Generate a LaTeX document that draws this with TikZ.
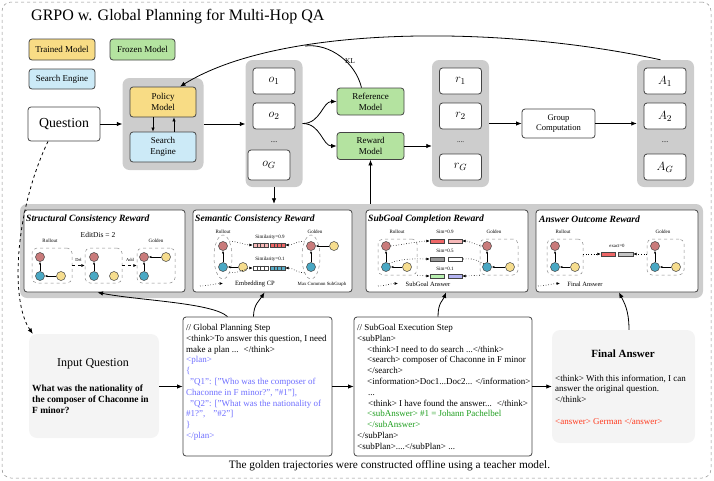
\documentclass[tikz,border=0pt]{standalone}
\usepackage{fontspec}
\setmainfont{Liberation Serif}
\usetikzlibrary{arrows.meta,shapes.geometric,calc}
\definecolor{ymod}{HTML}{F8DC85}
\definecolor{bmod}{HTML}{CCEAF7}
\definecolor{gmod}{HTML}{B4E3A0}
\definecolor{grpc}{HTML}{CDCDCD}
\definecolor{lightbox}{HTML}{F4F4F4}
\definecolor{plantxt}{HTML}{6F6FFF}
\definecolor{subtxt}{HTML}{1E9E1E}
\definecolor{anstxt}{HTML}{FF3B1F}
\definecolor{rcirc}{HTML}{C97B7B}
\definecolor{bcirc}{HTML}{4AA8C4}
\definecolor{ycirc}{HTML}{F6DD8E}
\definecolor{pinkbar}{HTML}{F7B8B8}
\definecolor{redbar}{HTML}{EE6666}
\definecolor{bluebar}{HTML}{5AAFC9}
\definecolor{darkbar}{HTML}{999999}
\definecolor{greenbar}{HTML}{B8F0B0}
\definecolor{lavbar}{HTML}{B4B4F2}
\definecolor{graybar}{HTML}{C4C4C4}
\definecolor{edge}{HTML}{444444}
\tikzset{
  mbox/.style={draw=edge, line width=0.8pt, rounded corners=3pt, inner sep=0pt, align=center},
  sz/.style 2 args={minimum width=#1pt, minimum height=#2pt},
  grp/.style={fill=grpc, rounded corners=7pt, inner sep=0pt},
  arr/.style={-{Latex[length=5.5pt,width=4.5pt]}, line width=0.8pt},
  pan/.style={draw=edge, line width=0.8pt, fill=white, rounded corners=3pt, inner sep=0pt},
  ptitle/.style={font=\fontsize{9.6}{10}\selectfont\bfseries\itshape, inner sep=0pt, anchor=west},
  tinyt/.style={font=\fontsize{5}{6}\selectfont, inner sep=0pt},
  cn/.style={circle, draw=edge, line width=0.5pt, minimum size=9pt, inner sep=0pt},
  rc/.style={cn, fill=rcirc}, bc/.style={cn, fill=bcirc}, yc/.style={cn, fill=ycirc},
  sarr/.style={-{Latex[length=2.6pt,width=2.2pt]}, line width=0.6pt},
  dgrp/.style={draw=black!45, dashed, line width=0.5pt, rounded corners=5pt, inner sep=0pt},
  dotarr/.style={dotted, line width=0.6pt, -{Latex[length=3.5pt,width=3pt]}},
  bar/.style={draw=edge, line width=0.4pt, inner sep=0pt, minimum height=4.5pt},
  code/.style={font=\fontsize{9}{10.8}\selectfont, align=left, inner sep=0pt, anchor=north west},
  mfont/.style={font=\fontsize{9}{11}\selectfont},
  ofont/.style={font=\fontsize{12.5}{14}\selectfont},
}
\newcommand{\mysegbar}[4]{%
  \node[bar, fill=#4, minimum width=15pt] (#1) at (#2,#3) {};
  \foreach \k in {1,2,3}{\draw[line width=0.3pt, draw=edge] ($(#1.north west)!{\k/4}!(#1.north east)$) -- ($(#1.south west)!{\k/4}!(#1.south east)$);}
}
\begin{document}
\begin{tikzpicture}[x=1pt,y=-1pt]
\useasboundingbox (0,0) rectangle (714,480);
\node[draw=black!45, dashed, line width=0.5pt, rounded corners=9pt, sz={709}{476}, inner sep=0pt] (frame) at (356.5,240) {};
\node[anchor=west, inner sep=0pt, font=\fontsize{16}{18}\selectfont] (title) at (31,17) {GRPO w. Global Planning for Multi-Hop QA};
% legend
\node[mbox, mfont, fill=ymod, sz={66}{21}] (legT) at (62,49.5) {Trained Model};
\node[mbox, mfont, fill=gmod, sz={65}{21}] (legF) at (142.5,49.5) {Frozen Model};
\node[mbox, mfont, fill=bmod, sz={66}{20}] (legS) at (62,79) {Search Engine};
% top row
\node[mbox, sz={72}{34}, font=\fontsize{13.8}{15}\selectfont] (q) at (64,124) {Question};
\node[grp, sz={81}{92}] (pg) at (163,124) {};
\node[mbox, mfont, fill=ymod, sz={66}{30}] (pm) at (163,102) {Policy\\Model};
\node[mbox, mfont, fill=bmod, sz={66}{30}] (se) at (163,147) {Search\\Engine};
\draw[sarr, line width=0.7pt, -{Latex[length=4pt,width=3.5pt]}] ([xshift=-10pt]pm.south) -- ([xshift=-10pt]se.north);
\draw[sarr, line width=0.7pt, -{Latex[length=4pt,width=3.5pt]}] ([xshift=11pt]se.north) -- ([xshift=11pt]pm.south);
\node[grp, sz={57}{127}] (og) at (274,123.5) {};
\node[mbox, ofont, fill=white, sz={42}{26}] (o1) at (274,81) {$o_1$};
\node[mbox, ofont, fill=white, sz={42}{26}] (o2) at (274,116) {$o_2$};
\node[inner sep=0pt, font=\fontsize{7}{8}\selectfont] (od) at (274,142) {....};
\node[mbox, ofont, fill=white, sz={42}{30}] (oG) at (269,165) {$o_G$};
\node[mbox, mfont, fill=gmod, sz={67}{27}] (ref) at (370.5,101.5) {Reference\\Model};
\node[mbox, mfont, fill=gmod, sz={67}{27}] (rew) at (370.5,146) {Reward\\Model};
\node[grp, sz={57}{127}] (rg) at (460.5,123.5) {};
\node[mbox, ofont, fill=white, sz={42}{26}] (r1) at (460.5,81) {$r_1$};
\node[mbox, ofont, fill=white, sz={42}{26}] (r2) at (460.5,116) {$r_2$};
\node[inner sep=0pt, font=\fontsize{7}{8}\selectfont] (rd) at (460.5,142) {....};
\node[mbox, ofont, fill=white, sz={42}{26}] (rG) at (460.5,167) {$r_G$};
\node[mbox, font=\fontsize{8.6}{10}\selectfont, fill=white, sz={73}{29}] (gc) at (558.5,123.5) {Group\\Computation};
\node[grp, sz={57}{127}] (ag) at (665.5,123.5) {};
\node[mbox, ofont, fill=white, sz={42}{26}] (a1) at (665,81) {$A_1$};
\node[mbox, ofont, fill=white, sz={42}{26}] (a2) at (665,116) {$A_2$};
\node[inner sep=0pt, font=\fontsize{7}{8}\selectfont] (ad) at (665,142) {....};
\node[mbox, ofont, fill=white, sz={42}{26}] (aG) at (665,167) {$A_G$};
% top connectors
\draw[arr] (q.east) -- (q.east -| pg.west);
\draw[arr] (pg.east) -- (pg.east -| og.west);
\draw[arr] (og.east) .. controls +(18,0) and +(-14,0) .. (ref.west);
\draw[arr] (og.east) .. controls +(18,0) and +(-14,0) .. (rew.west);
\draw[arr] (rew.east) -- (rew.east -| rg.west);
\draw[arr] (rg.east) -- (rg.east -| gc.west);
\draw[arr] (gc.east) -- (gc.east -| ag.west);
\draw[arr] ([xshift=-5pt]ag.north) .. controls +(-160,-35) and +(100,-62) .. ([xshift=17pt]pm.north);
\coordinate (klm) at (305,46);
\draw[line width=0.8pt] ([xshift=-9pt]ref.north) .. controls +(-6,-25) and +(25,-3) .. (klm);
\node[inner sep=0pt, font=\fontsize{7.5}{8}\selectfont] (kl) at (350,61) {KL};
% reward band
\node[grp, sz={683}{94}] (band) at (361.5,251) {};
\draw[arr] (og.south) -- (og.south |- band.north);
\draw[arr] (band.north -| rew.south) -- (rew.south);
\node[pan, sz={161}{82}] (p1) at (104.5,251) {};
\node[pan, sz={159}{82}] (p2) at (272.5,251) {};
\node[pan, sz={162}{82}] (p3) at (447,251) {};
\node[pan, sz={162}{82}] (p4) at (617,251) {};
\node[ptitle] (t1) at (26,219) {Structural Consistency Reward};
\node[ptitle] (t2) at (195,219) {Semantic Consistency Reward};
\node[ptitle] (t3) at (368,219) {SubGoal Completion Reward};
\node[ptitle] (t4) at (539,219) {Answer Outcome Reward};
% panel 1
\node[inner sep=0pt, font=\fontsize{7.5}{8}\selectfont] (ed) at (98,235) {EditDis = 2};
\node[tinyt] (ro1) at (50,241) {Rollout};
\node[tinyt] (go1) at (156,241) {Golden};
\node[dgrp, sz={40}{35}] (db1) at (52,265.5) {};
\node[dgrp, sz={37}{35}] (db2) at (103.5,265.5) {};
\node[dgrp, sz={38}{35}] (db3) at (156,265.5) {};
\node[rc] (c1r) at (40,257) {}; \node[bc] (c1b) at (40,276) {}; \node[yc] (c1y) at (61,276) {};
\node[rc] (c2r) at (94,257) {}; \node[bc] (c2b) at (94,276) {}; \node[yc] (c2y) at (114,276) {};
\node[rc] (c3r) at (144,257) {}; \node[bc] (c3b) at (144,276) {}; \node[yc] (c3y) at (166,257) {};
\draw[sarr] (c1b) -- (c1r); \draw[sarr] (c1y) -- (c1b);
\draw[sarr] (c2b) -- (c2r);
\draw[sarr] (c3b) -- (c3r); \draw[sarr] (c3y) -- (c3r);
\draw[dashed, line width=0.5pt, -{Latex[length=3.5pt,width=3pt]}] (db1.east) -- (db2.west);
\draw[dashed, line width=0.5pt, -{Latex[length=3.5pt,width=3pt]}] (db2.east) -- (db3.west);
\node[font=\fontsize{4.5}{5}\selectfont, inner sep=0pt] (del) at (78.5,260) {Del};
\node[font=\fontsize{4.5}{5}\selectfont, inner sep=0pt] (add) at (130,260) {Add};
% panel 2
\node[tinyt] (ro2) at (223,232) {Rollout};
\node[tinyt] (go2) at (315,232) {Golden};
\node[ellipse, draw=black!45, dashed, line width=0.5pt, minimum width=18pt, minimum height=44pt, inner sep=0pt] (el1) at (223,257) {};
\node[ellipse, draw=black!45, dashed, line width=0.5pt, minimum width=18pt, minimum height=44pt, inner sep=0pt] (el2) at (311,257) {};
\node[rc] (s1r) at (223,246) {}; \node[bc] (s1b) at (223,267) {}; \node[yc] (s1y) at (243,267) {};
\node[rc] (s2r) at (311,246) {}; \node[bc] (s2b) at (311,267) {}; \node[yc] (s2y) at (334,246) {};
\draw[sarr] (s1b) -- (s1r); \draw[sarr] (s1y) -- (s1b);
\draw[sarr] (s2b) -- (s2r); \draw[sarr] (s2y) -- (s2r);
\node[tinyt] (sim1) at (270,237) {Similarity=0.9};
\node[tinyt] (sim2) at (270,259) {Similarity=0.1};
\mysegbar{sb1}{260.5}{245}{pinkbar}
\mysegbar{sb2}{277.5}{245}{redbar}
\mysegbar{sb3}{260.5}{268}{white}
\mysegbar{sb4}{277.5}{268}{bluebar}
\draw[dotarr] (el1.north east) .. controls +(8,0) and +(-8,0) .. (sb1.west);
\draw[dotarr] (el2.north west) .. controls +(-8,0) and +(8,0) .. (sb2.east);
\draw[dotarr] (el1.south east) .. controls +(12,0) and +(-6,0) .. (sb3.west);
\draw[dotarr] (el2.south west) .. controls +(-8,0) and +(8,0) .. (sb4.east);
\coordinate (lg2a) at (200,286);
\coordinate (lg2b) at (223,283.5);
\draw[dotarr] (lg2a) .. controls +(8,0) and +(-8,0) .. (lg2b);
\node[inner sep=0pt, font=\fontsize{6.5}{7}\selectfont] (emb) at (255,284) {Embedding CP};
\node[inner sep=0pt, font=\fontsize{4.8}{5}\selectfont] (mcs) at (322,284) {Max Common SubGraph};
% panel 3
\node[tinyt] (ro3) at (397,232) {Rollout};
\node[tinyt] (go3) at (494,232) {Golden};
\node[dgrp, sz={39}{36}] (db4) at (397.5,257) {};
\node[dgrp, sz={38}{36}] (db5) at (499,257) {};
\node[rc] (g1r) at (386,246) {}; \node[bc] (g1b) at (386,267) {}; \node[yc] (g1y) at (407,267) {};
\node[rc] (g2r) at (487,246) {}; \node[bc] (g2b) at (487,267) {}; \node[yc] (g2y) at (510,267) {};
\draw[sarr] (g1b) -- (g1r); \draw[sarr] (g1y) -- (g1b);
\draw[sarr] (g2b) -- (g2r); \draw[sarr] (g2y) -- (g2b);
\node[tinyt] (sm1) at (445,232) {Sim=0.9};
\node[tinyt] (sm2) at (445,251) {Sim=0.5};
\node[tinyt] (sm3) at (445,269) {Sim=0.1};
\node[bar, fill=redbar, minimum width=14pt] (gb1) at (437,241) {};
\node[bar, fill=pinkbar, minimum width=14pt] (gb2) at (455,241) {};
\node[bar, fill=darkbar, minimum width=14pt] (gb3) at (437,259) {};
\node[bar, fill=white, minimum width=14pt] (gb4) at (455,259) {};
\node[bar, fill=greenbar, minimum width=14pt] (gb5) at (437,276) {};
\node[bar, fill=lavbar, minimum width=14pt] (gb6) at (455,276) {};
\draw[dotarr] (g1r.east) .. controls +(15,-2) and +(-8,0) .. (gb1.west);
\draw[dotarr] (g2r.west) .. controls +(-10,-2) and +(8,0) .. (gb2.east);
\draw[dotarr] (g1b.north east) .. controls +(12,-6) and +(-10,0) .. (gb3.west);
\draw[dotted, line width=0.6pt] (g2b.north west) .. controls +(-12,-6) and +(10,0) .. (gb4.east);
\draw[dotarr] (db4.south east) .. controls +(6,0) and +(-8,0) .. (gb5.west);
\draw[dotarr] (db5.south west) .. controls +(-6,0) and +(8,0) .. (gb6.east);
\coordinate (lg3a) at (378,286);
\coordinate (lg3b) at (398,283.5);
\draw[dotarr] (lg3a) .. controls +(8,0) and +(-8,0) .. (lg3b);
\node[inner sep=0pt, font=\fontsize{6.5}{7}\selectfont] (sga) at (428,284) {SubGoal Answer};
% panel 4
\node[tinyt] (ro4) at (563,232) {Rollout};
\node[tinyt] (go4) at (663,232) {Golden};
\node[dgrp, sz={36}{36}] (db6) at (565,257) {};
\node[dgrp, sz={37}{36}] (db7) at (665.5,257) {};
\node[rc] (f1r) at (555,246) {}; \node[bc] (f1b) at (555,267) {}; \node[yc] (f1y) at (575,267) {};
\node[rc] (f2r) at (655,246) {}; \node[bc] (f2b) at (655,267) {}; \node[yc] (f2y) at (676,267) {};
\draw[sarr] (f1b) -- (f1r); \draw[sarr] (f1y) -- (f1b);
\draw[sarr] (f2b) -- (f2r); \draw[sarr] (f2y) -- (f2b);
\node[font=\fontsize{4.8}{5}\selectfont, inner sep=0pt] (exa) at (617,246) {exact=0};
\node[bar, fill=redbar, minimum width=14pt] (fb1) at (608,254) {};
\node[bar, fill=graybar, minimum width=15pt] (fb2) at (625.5,254) {};
\draw[dotarr] (db6.east |- fb1) -- (fb1.west);
\draw[dotarr] (db7.west |- fb2) -- (fb2.east);
\coordinate (lg4a) at (538,286);
\coordinate (lg4b) at (560,283.5);
\draw[dotarr] (lg4a) .. controls +(8,0) and +(-8,0) .. (lg4b);
\node[inner sep=0pt, font=\fontsize{6.5}{7}\selectfont] (fan) at (585,284) {Final Answer};
% bottom row
\node[fill=lightbox, rounded corners=8pt, sz={130}{104}, inner sep=0pt] (iq) at (94,386) {};
\node[inner sep=0pt, font=\fontsize{12}{14}\selectfont] (iqt) at (93,364) {Input Question};
\node[inner sep=0pt, anchor=north west, align=left, font=\fontsize{9.4}{11}\selectfont\bfseries] (iqx) at (32,384.5) {What was the nationality of\\the composer of Chaconne in\\F minor?};
\node[pan, sz={149}{139}] (gp) at (257.5,386.5) {};
\node[code] (gpt) at (186,324) {// Global Planning Step\\
<think>To answer\ this question, I need\\
make a plan ...\hspace*{5pt}</think>\\
\textcolor{plantxt}{<plan>}\\
\textcolor{plantxt}{\{}\\
\hspace*{4pt}\textcolor{plantxt}{"Q1": ["Who was the composer of}\\
\textcolor{plantxt}{Chaconne in F minor?", "\#1"],}\\
\hspace*{4pt}\textcolor{plantxt}{"Q2": ["What was the nationality of}\\
\textcolor{plantxt}{\#1?",\hspace*{8pt}"\#2"]}\\
\textcolor{plantxt}{\}}\\
\textcolor{plantxt}{</plan>}};
\node[pan, sz={178}{139}] (sg) at (443,386.5) {};
\node[code] (sgt) at (357,324) {// SubGoal Execution Step\\
<subPlan>\\
\hspace*{10pt}<think>I need to do search ...</think>\\
\hspace*{10pt}<search> composer of Chaconne in F minor\\
\hspace*{10pt}</search>\\
\hspace*{10pt}<information>Doc1...Doc2... </information>\\
\hspace*{11pt}...\\
\hspace*{11pt}<think> I have found the answer...\hspace*{5pt}</think>\\
\hspace*{10pt}\textcolor{subtxt}{<subAnswer> \#1 = Johann Pachelbel}\\
\hspace*{10pt}\textcolor{subtxt}{</subAnswer>}\\
</subPlan>\\
<subPlan>....</subPlan> ...};
\node[fill=lightbox, rounded corners=8pt, sz={143}{113}, inner sep=0pt] (fa) at (623.5,386.5) {};
\node[inner sep=0pt, font=\fontsize{11}{13}\selectfont\bfseries] (fat) at (623,354) {Final Answer};
\node[code] (fatx) at (555,374.5) {<think> With this information, I can\\
answer the original question.\\
</think>\\[10.8pt]
\textcolor{anstxt}{<answer> German </answer>}};
\node[inner sep=0pt, font=\fontsize{11.3}{13}\selectfont] (cap) at (389.5,466) {The golden trajectories were constructed offline using a teacher model.};
% bottom connectors
\draw[arr] (iq.east |- gp.west) -- (gp.west);
\draw[arr] (gp.east) -- (sg.west);
\draw[arr] (sg.east) -- (sg.east -| fa.west);
\draw[arr, dashed] ([xshift=-16pt]q.south) .. controls +(-33,69) and +(-23,-33) .. ([xshift=4pt]iq.north west);
\draw[arr] ([xshift=-30pt]gp.north) .. controls +(-15,-14) and +(40,8) .. ([xshift=-7pt]p1.south);
\draw[arr] ([xshift=-4pt]gp.north) .. controls +(0,-12) and +(-5,8) .. ([xshift=-8pt]p2.south);
\draw[arr] ([xshift=-5pt]sg.north) .. controls +(0,-14) and +(-3,8) .. ([xshift=-1pt]p3.south);
\draw[arr] ([xshift=5.5pt]fa.north) .. controls +(0,-20) and +(5,10) .. ([xshift=2pt]p4.south);
\end{tikzpicture}
\end{document}
